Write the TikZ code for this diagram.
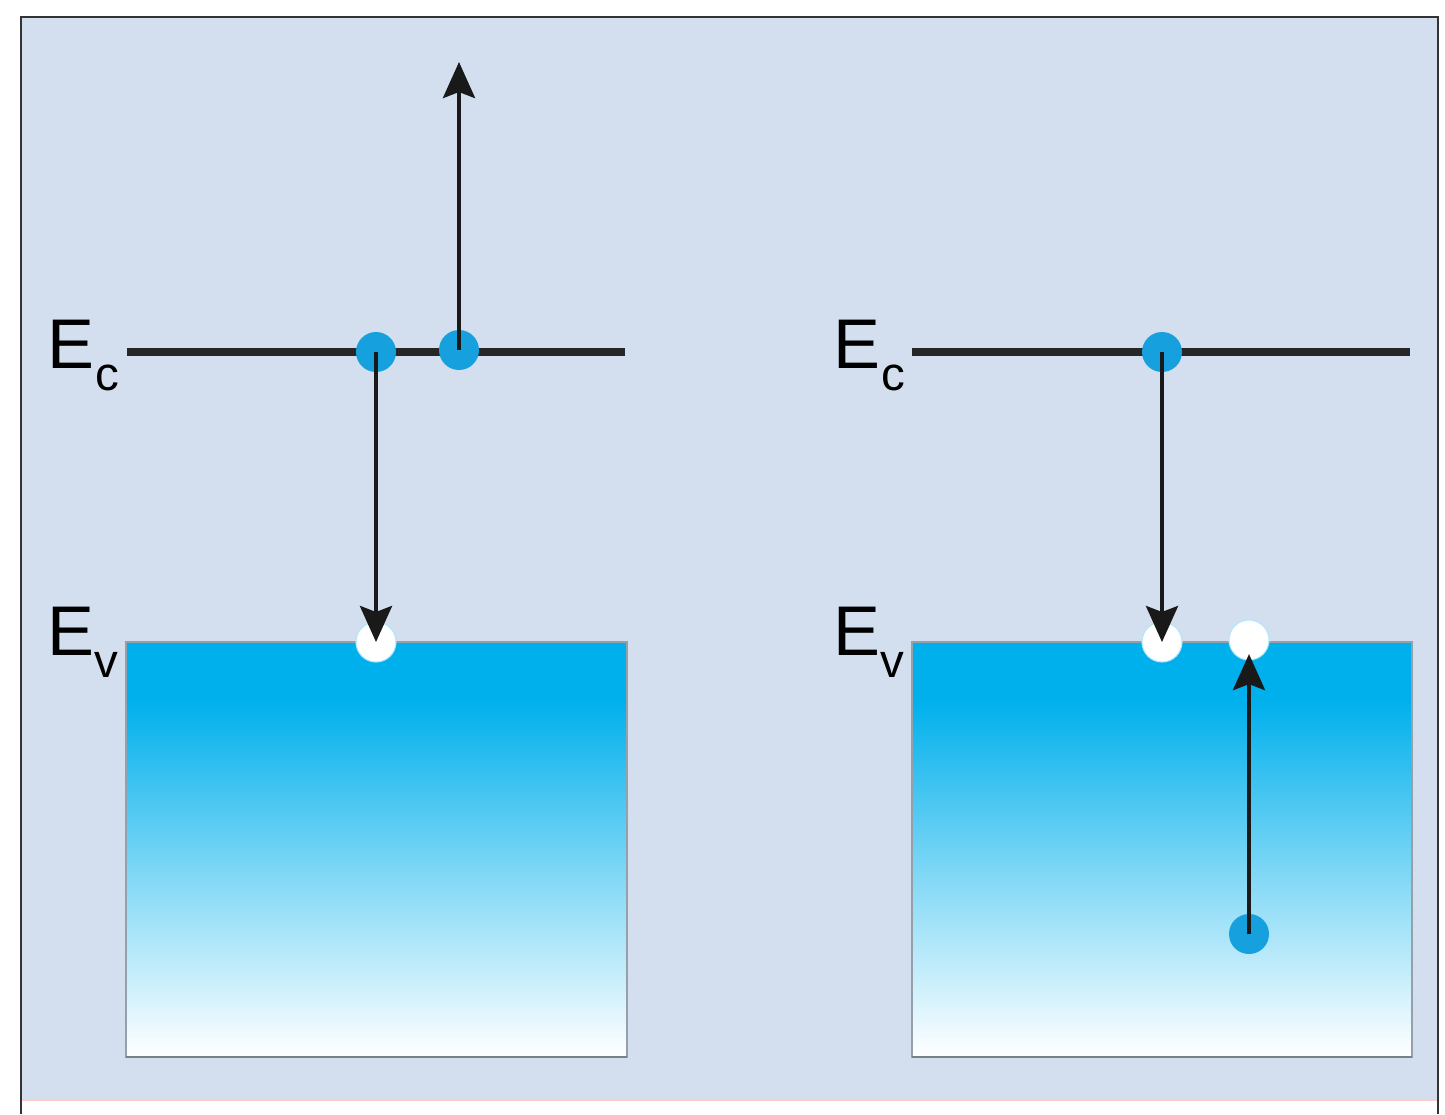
\documentclass[tikz,border=0pt]{standalone}
\usepackage{fontspec}
\setmainfont{Liberation Sans}
\usetikzlibrary{positioning,arrows.meta}
\definecolor{panelbg}{RGB}{211,223,239}
\definecolor{bandblue}{RGB}{0,176,236}
\definecolor{dotblue}{RGB}{22,160,222}
\definecolor{edgegray}{RGB}{150,160,170}
\pgfdeclareverticalshading{bandshade}{100bp}{color(0bp)=(white); color(25bp)=(white); color(45bp)=(bandblue!45); color(68bp)=(bandblue); color(100bp)=(bandblue)}

\begin{document}
\begin{tikzpicture}[
  x=0.01cm,y=-0.01cm,
  line cap=butt,line join=miter,
  >={Stealth[length=0.36cm,width=0.32cm,inset=0.06cm]},
  level/.style={draw=black!85,line width=0.08cm},
  band/.style={shading=bandshade,draw=edgegray,line width=0.5pt},
  elec/.style={circle,fill=dotblue,minimum size=0.4cm,inner sep=0pt},
  hole/.style={circle,fill=white,draw=bandblue!30,line width=0.3pt,minimum size=0.4cm,inner sep=0pt},
  jump/.style={->,draw=black!90,line width=0.04cm},
  lbl/.style={inner sep=0pt,font=\fontsize{20}{20}\selectfont},
  sub/.style={inner sep=0pt,font=\fontsize{13.5}{13.5}\selectfont}
]
  \path[use as bounding box] (0,0) rectangle (1445,1114);
  \fill[white] (0,0) rectangle (1445,1114);
  \fill[panelbg] (21,17) rectangle (1438,1100);
  \draw[red!20,line width=0.6pt] (21,1100) -- (1438,1100);
  \draw[black!80,line width=0.7pt] (21,1114) -- (21,17) -- (1438,17) -- (1438,1114);

  \shade[band] (126,642) rectangle (627,1057);
  \shade[band] (912,642) rectangle (1412,1057);
  \draw[edgegray!80!black,line width=0.8pt] (126,1057) -- (627,1057);
  \draw[edgegray!80!black,line width=0.8pt] (912,1057) -- (1412,1057);

  \draw[level] (127,352) -- (625,352);
  \draw[level] (912,352) -- (1410,352);

  \node[lbl,anchor=base west] (ecL) at (47,368) {E};
  \node[sub,anchor=base west] (ecLs) at (95,390) {c};
  \node[lbl,anchor=base west] (evL) at (47,655) {E};
  \node[sub,anchor=base west] (evLs) at (94,677) {v};
  \node[lbl,anchor=base west] (ecR) at (833,368) {E};
  \node[sub,anchor=base west] (ecRs) at (881,390) {c};
  \node[lbl,anchor=base west] (evR) at (833,655) {E};
  \node[sub,anchor=base west] (evRs) at (880,677) {v};

  \node[elec] (eL1) at (376,352) {};
  \node[elec] (eL2) at (459,350) {};
  \node[hole] (hL1) at (376,642) {};
  \coordinate (topL) at (459,62);

  \node[elec] (eR1) at (1162,352) {};
  \node[hole] (hR1) at (1162,642) {};
  \node[hole] (hR2) at (1249,640) {};
  \node[elec] (eR2) at (1249,934) {};

  \draw[jump] (eL2.center) -- (topL);
  \draw[jump] (eL1.center) -- (hL1.center);
  \draw[jump] (eR1.center) -- (hR1.center);
  \draw[jump] (eR2.center) -- ([yshift=-4pt]hR2.center);
\end{tikzpicture}
\end{document}
